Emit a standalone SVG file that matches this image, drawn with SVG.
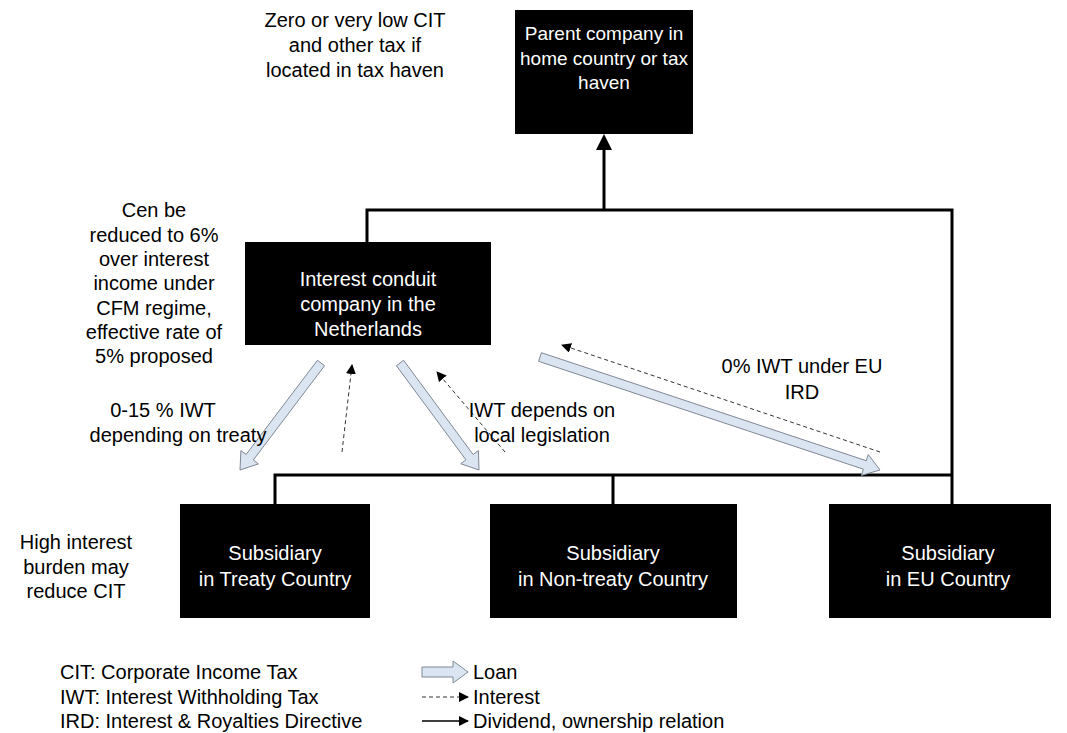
<svg xmlns="http://www.w3.org/2000/svg" width="1067" height="733" viewBox="0 0 1067 733">
<defs>
<style>
.box{fill:#000;}
.bt{font-family:"Liberation Sans",Arial,sans-serif;font-size:20px;fill:#fff;text-anchor:middle;}
.bts{font-family:"Liberation Sans",Arial,sans-serif;font-size:19px;fill:#fff;text-anchor:middle;}
.t{font-family:"Liberation Sans",Arial,sans-serif;font-size:20px;fill:#000;text-anchor:middle;}
.tl{font-family:"Liberation Sans",Arial,sans-serif;font-size:20px;fill:#000;}
.own{fill:none;stroke:#000;stroke-width:3;}
.loan{fill:#dbe5f1;stroke:#7f8794;stroke-width:1;}
.int{fill:none;stroke:#333;stroke-width:1;stroke-dasharray:4,3;}
</style>
<marker id="ah" viewBox="0 0 10 10" refX="9" refY="5" markerWidth="10" markerHeight="10" markerUnits="userSpaceOnUse" orient="auto">
<path d="M0,0 L10,5 L0,10 z" fill="#000"/>
</marker>
</defs>
<rect width="1067" height="733" fill="#fff"/>

<g id="connectors">
<polyline class="own" points="367,242 367,210 952,210 952,504"/>
<polyline class="own" points="952,475 275,475 275,504"/>
<line class="own" x1="613" y1="475" x2="613" y2="504"/>
<line class="own" x1="604" y1="210" x2="604" y2="148"/>
<polygon points="596,150 612,150 604,134" fill="#000"/>
<polygon class="loan" points="317.4,360.3 246.1,454.5 240.9,450.6 240,470 258.4,463.9 253.3,460 324.6,365.7"/>
<polygon class="loan" points="396.4,365.7 465.9,459.8 460.7,463.7 479,470 478.4,450.6 473.1,454.5 403.6,360.3"/>
<polygon class="loan" points="538.6,361.3 863.4,469.2 861.4,475.4 880,470 868.3,454.5 866.2,460.7 541.4,352.7"/>
<line class="int" x1="342" y1="452" x2="352" y2="365" marker-end="url(#ah)"/>
<line class="int" x1="505" y1="452" x2="437" y2="372" marker-end="url(#ah)"/>
<line class="int" x1="880" y1="452" x2="562" y2="345" marker-end="url(#ah)"/>
</g>

<g id="parent">
<rect class="box" x="515" y="10" width="178" height="124"/>
<text class="bts" x="604" y="40">Parent company in</text>
<text class="bts" x="604" y="65">home country or tax</text>
<text class="bts" x="604" y="89">haven</text>
</g>

<g id="conduit">
<rect class="box" x="245" y="242" width="246" height="103"/>
<text class="bt" x="368" y="286">Interest conduit</text>
<text class="bt" x="368" y="311">company in the</text>
<text class="bt" x="368" y="336">Netherlands</text>
</g>

<g id="sub-treaty">
<rect class="box" x="180" y="504" width="190" height="114"/>
<text class="bt" x="275" y="560">Subsidiary</text>
<text class="bt" x="275" y="586">in Treaty Country</text>
</g>

<g id="sub-nontreaty">
<rect class="box" x="490" y="504" width="247" height="114"/>
<text class="bt" x="613" y="560">Subsidiary</text>
<text class="bt" x="613" y="586">in Non-treaty Country</text>
</g>

<g id="sub-eu">
<rect class="box" x="829" y="504" width="222" height="114"/>
<text class="bt" x="948" y="560">Subsidiary</text>
<text class="bt" x="948" y="586">in EU Country</text>
</g>

<g id="annotations">
<text class="t" x="355" y="27">Zero or very low CIT</text>
<text class="t" x="355" y="52">and other tax if</text>
<text class="t" x="355" y="77">located in tax haven</text>

<text class="t" x="154" y="217">Cen be</text>
<text class="t" x="154" y="242">reduced to 6%</text>
<text class="t" x="154" y="266">over interest</text>
<text class="t" x="154" y="290">income under</text>
<text class="t" x="154" y="315">CFM regime,</text>
<text class="t" x="154" y="339">effective rate of</text>
<text class="t" x="154" y="363">5% proposed</text>

<text class="t" x="163" y="417">0-15 % IWT</text>
<text class="t" x="178" y="442">depending on treaty</text>

<text class="t" x="542" y="417">IWT depends on</text>
<text class="t" x="542" y="442">local legislation</text>

<text class="t" x="802" y="373">0% IWT under EU</text>
<text class="t" x="802" y="399">IRD</text>

<text class="t" x="76" y="549">High interest</text>
<text class="t" x="76" y="574">burden may</text>
<text class="t" x="76" y="598">reduce CIT</text>
</g>

<g id="legend">
<text class="tl" x="60" y="679">CIT: Corporate Income Tax</text>
<text class="tl" x="60" y="704">IWT: Interest Withholding Tax</text>
<text class="tl" x="60" y="728">IRD: Interest &amp; Royalties Directive</text>
<polygon class="loan" points="422,667 453,667 453,661 468,672 453,683 453,677 422,677"/>
<line class="int" x1="422" y1="697" x2="468" y2="697" marker-end="url(#ah)"/>
<line x1="422" y1="721" x2="468" y2="721" stroke="#000" stroke-width="1.5" marker-end="url(#ah)"/>
<text class="tl" x="473" y="679">Loan</text>
<text class="tl" x="473" y="704">Interest</text>
<text class="tl" x="473" y="728">Dividend, ownership relation</text>
</g>
</svg>
